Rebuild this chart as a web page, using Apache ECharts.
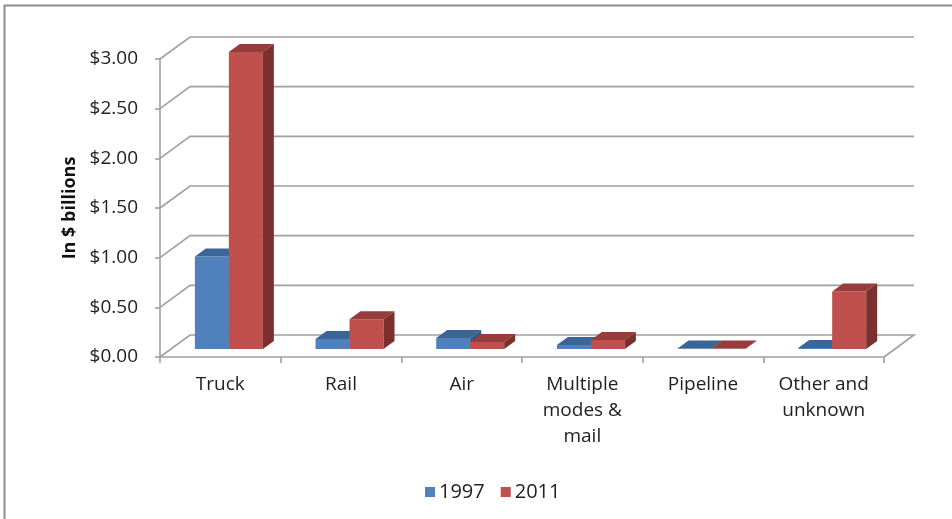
<!DOCTYPE html>
<html>
<head>
<meta charset="utf-8">
<script src="https://cdn.jsdelivr.net/npm/echarts@6/dist/echarts.min.js"></script>
<style>
  html, body { margin: 0; padding: 0; background: #fff; }
  #chart { width: 952px; height: 519px; }
</style>
</head>
<body>
<div id="chart"></div>
<script>
// Freight value by mode, 1997 vs 2011 (in $ billions)
const categories = ['Truck', 'Rail', 'Air', 'Multiple\nmodes &\nmail', 'Pipeline', 'Other and\nunknown'];
const values1997 = [0.93, 0.10, 0.11, 0.04, 0.005, 0.01];
const values2011 = [2.99, 0.30, 0.07, 0.09, 0.005, 0.58];
const yTicks = [0, 0.5, 1, 1.5, 2, 2.5, 3];
const seriesNames = ['1997', '2011'];

// Oblique projection used for the pseudo-3D look
const WALL = [30, -22];     // back wall offset from the front plane
const BAR_LIFT = [0, -8];   // bars sit part-way into the floor
const BAR_DEPTH = [11, -8]; // thickness of each bar
const BAR_FRAC = 0.282;     // bar width as a share of the category band

const FONT = '"Open Sans", sans-serif';
const GRID_COLOR = '#a0a0a0';

const palettes = {
  '1997': { front: '#4F81BD', top: '#3C6597', side: '#345682' },
  '2011': { front: '#C0504D', top: '#963C3A', side: '#7B302E' }
};

function wallItem(params, api) {
  const cs = params.coordSys;
  const y = api.coord([0, api.value(1)])[1];
  const L = cs.x, R = cs.x + cs.width;
  const pts = [[L, y], [L + WALL[0], y + WALL[1]], [R + WALL[0], y + WALL[1]]];
  if (api.value(1) === 0) pts.push([R, y]);
  return {
    type: 'polyline',
    shape: { points: pts },
    style: { stroke: GRID_COLOR, lineWidth: 1.6, fill: null }
  };
}

function barRenderer(offFrac, pal) {
  return function (params, api) {
    const i = api.value(0), v = api.value(1);
    const base = api.coord([i, 0]);
    const top = api.coord([i, v]);
    const band = api.size([1, 0])[0];
    const w = band * BAR_FRAC;
    const x0 = base[0] + band * offFrac + BAR_LIFT[0];
    const yb = base[1] + BAR_LIFT[1];
    const yt = top[1] + BAR_LIFT[1];
    const dx = BAR_DEPTH[0], dy = BAR_DEPTH[1];
    return {
      type: 'group',
      children: [
        { type: 'rect', shape: { x: x0, y: yt, width: w, height: Math.max(yb - yt, 0) },
          style: { fill: pal.front } },
        { type: 'polygon', shape: { points: [[x0, yt], [x0 + dx, yt + dy], [x0 + w + dx, yt + dy], [x0 + w, yt]] },
          style: { fill: pal.top } },
        { type: 'polygon', shape: { points: [[x0 + w, yt], [x0 + w + dx, yt + dy], [x0 + w + dx, yb + dy], [x0 + w, yb]] },
          style: { fill: pal.side } }
      ]
    };
  };
}

const chart = echarts.init(document.getElementById('chart'), null, { renderer: 'canvas' });

chart.setOption({
  animation: false,
  backgroundColor: '#fff',
  textStyle: { fontFamily: FONT },
  graphic: [{
    type: 'rect',
    shape: { x: 4.5, y: 5.5, width: 1200, height: 1200 },
    style: { fill: null, stroke: '#8c8c8c', lineWidth: 2 },
    silent: true
  }],
  grid: { left: 160, right: 68, top: 59, bottom: 162 },
  legend: {
    data: seriesNames,
    left: 420,
    top: 477,
    icon: 'rect',
    itemWidth: 10,
    itemHeight: 10,
    itemGap: 16,
    textStyle: { fontFamily: FONT, fontSize: 20, color: '#222', padding: [0, 0, 0, -1] }
  },
  xAxis: {
    type: 'category',
    data: categories,
    axisLine: { lineStyle: { color: GRID_COLOR, width: 1.6 } },
    axisTick: { show: true, length: 6, lineStyle: { color: GRID_COLOR, width: 1.6 } },
    axisLabel: { fontFamily: FONT, fontSize: 19, color: '#222', lineHeight: 26, margin: 15, interval: 0 },
    splitLine: { show: false }
  },
  yAxis: {
    type: 'value',
    min: 0,
    max: 3,
    interval: 0.5,
    axisLine: { show: true, lineStyle: { color: GRID_COLOR, width: 1.6 } },
    axisTick: { show: true, length: 5, lineStyle: { color: GRID_COLOR, width: 1.6 } },
    axisLabel: {
      fontFamily: FONT, fontSize: 19, color: '#222', margin: 22,
      formatter: v => '$' + v.toFixed(2)
    },
    splitLine: { show: false },
    name: 'In $ billions',
    nameLocation: 'middle',
    nameRotate: 90,
    nameGap: 76,
    nameTextStyle: { fontFamily: FONT, fontSize: 18, fontWeight: 'bold', color: '#111' }
  },
  series: [
    {
      name: 'walls',
      type: 'custom',
      renderItem: wallItem,
      data: yTicks.map(v => [0, v]),
      z: 1,
      silent: true,
      clip: false,
      legendHoverLink: false
    },
    {
      name: seriesNames[0],
      type: 'custom',
      renderItem: barRenderer(-0.211, palettes['1997']),
      data: values1997.map((v, i) => [i, v]),
      itemStyle: { color: palettes['1997'].front },
      z: 3,
      clip: false
    },
    {
      name: seriesNames[1],
      type: 'custom',
      renderItem: barRenderer(0.0704, palettes['2011']),
      data: values2011.map((v, i) => [i, v]),
      itemStyle: { color: palettes['2011'].front },
      z: 4,
      clip: false
    }
  ]
});
</script>
</body>
</html>
